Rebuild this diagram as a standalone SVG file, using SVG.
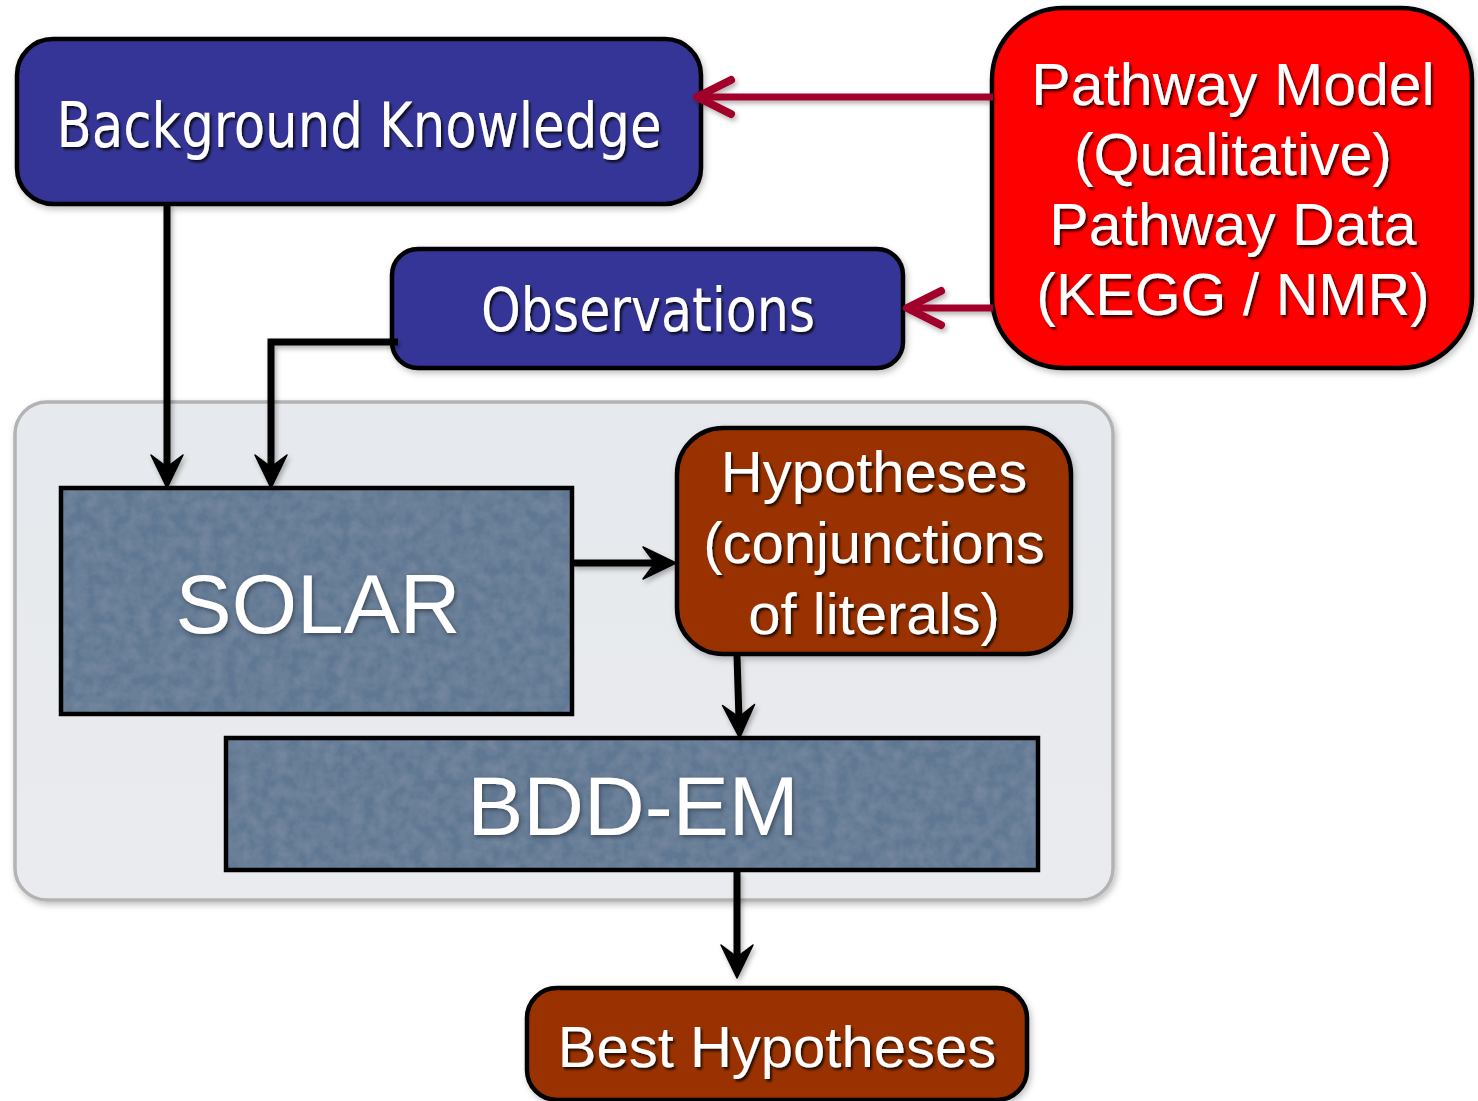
<svg xmlns="http://www.w3.org/2000/svg" width="1478" height="1101" viewBox="0 0 1478 1101">
  <defs>
    <style>
      .box { stroke: #000; stroke-width: 4.5; }
      .edge { fill: none; stroke: #000; stroke-width: 4.5; }
      .blue { fill: #343497; }
      .red { fill: #ff0000; }
      .brown { fill: #993300; }
      .slate { fill: #5e7793; }
      .tahoma { font-family: "DejaVu Sans Condensed", "DejaVu Sans", sans-serif; fill: #fff; text-anchor: middle; }
      .arial { font-family: "Liberation Sans", Arial, sans-serif; fill: #fff; text-anchor: middle; }
      .flow { fill: none; stroke: #000; stroke-width: 7; }
      .feed { fill: none; stroke: #a0002a; stroke-width: 7; }
    </style>
    <filter id="txtShadow" x="-10%" y="-20%" width="120%" height="150%">
      <feDropShadow dx="2" dy="2.5" stdDeviation="0.8" flood-color="#000" flood-opacity="0.75"/>
    </filter>
    <filter id="glow" x="-10%" y="-20%" width="120%" height="150%">
      <feDropShadow dx="1.5" dy="2" stdDeviation="2.2" flood-color="#2a3340" flood-opacity="0.7"/>
    </filter>
    <filter id="boxShadow" x="-5%" y="-5%" width="112%" height="115%">
      <feDropShadow dx="2" dy="3" stdDeviation="3" flood-color="#000" flood-opacity="0.25"/>
    </filter>
    <filter id="lineShadow" x="-20%" y="-20%" width="140%" height="140%">
      <feDropShadow dx="2" dy="3" stdDeviation="2.5" flood-color="#000" flood-opacity="0.3"/>
    </filter>
    <!-- mottled slate texture for the engine blocks -->
    <filter id="grain" x="0" y="0" width="100%" height="100%">
      <feTurbulence type="fractalNoise" baseFrequency="0.08" numOctaves="3" seed="4" result="noise"/>
      <feColorMatrix in="noise" type="matrix" values="0 0 0 0 1  0 0 0 0 1  0 0 0 0 1  0 0 0 0.12 -0.03" result="spots"/>
      <feComposite in="spots" in2="SourceGraphic" operator="in" result="clipped"/>
      <feMerge><feMergeNode in="SourceGraphic"/><feMergeNode in="clipped"/></feMerge>
    </filter>
    <linearGradient id="panel" x1="0" y1="0" x2="0" y2="1">
      <stop offset="0" stop-color="#e6e9ed"/>
      <stop offset="1" stop-color="#e9ebee"/>
    </linearGradient>
    <!-- solid notched arrowhead; tip sits 18 units past the line end -->
    <marker id="head" markerUnits="userSpaceOnUse" viewBox="-40 -20 44 40" refX="-18" refY="0" markerWidth="44" markerHeight="40" orient="auto">
      <path d="M0,0 L-33,-16 L-21,0 L-33,16 Z" fill="#000" stroke="#000" stroke-width="1.5" stroke-linejoin="round"/>
    </marker>
    <!-- open chevron head for the red feeds -->
    <marker id="chevron" markerUnits="userSpaceOnUse" viewBox="-45 -25 50 50" refX="-4" refY="0" markerWidth="50" markerHeight="50" orient="auto">
      <path d="M-38,-17 L-4,0 L-38,17" fill="none" stroke="#a0002a" stroke-width="8" stroke-linecap="round" stroke-linejoin="round"/>
    </marker>
  </defs>

  <!-- grouping panel for the SOLAR / BDD-EM pipeline -->
  <g id="pipeline-panel">
    <rect x="15" y="402" width="1098" height="498" rx="32" fill="url(#panel)" stroke="#b3b3b3" stroke-width="3.5" filter="url(#boxShadow)"/>
  </g>

  <g id="background-knowledge">
    <rect class="box blue" x="17" y="39" width="684" height="165" rx="36" filter="url(#boxShadow)"/>
    <text class="tahoma" x="359" y="147" font-size="62" textLength="605" lengthAdjust="spacingAndGlyphs" filter="url(#txtShadow)">Background Knowledge</text>
  </g>

  <g id="observations">
    <rect class="box blue" x="392" y="249" width="511" height="119" rx="26" filter="url(#boxShadow)"/>
    <text class="tahoma" x="648" y="331" font-size="60" textLength="334" lengthAdjust="spacingAndGlyphs" filter="url(#txtShadow)">Observations</text>
  </g>

  <g id="pathway">
    <rect class="box red" x="992" y="8" width="480" height="360" rx="72" filter="url(#boxShadow)"/>
    <g class="arial" font-size="59" filter="url(#txtShadow)">
      <text x="1233" y="105">Pathway Model</text>
      <text x="1233" y="175">(Qualitative)</text>
      <text x="1233" y="245">Pathway Data</text>
      <text x="1233" y="315">(KEGG / NMR)</text>
    </g>
  </g>

  <g id="solar">
    <rect class="slate" x="61" y="488" width="511" height="226" filter="url(#grain)"/>
    <rect class="edge" x="61" y="488" width="511" height="226"/>
    <text class="arial" x="318" y="633" font-size="84" filter="url(#glow)">SOLAR</text>
  </g>

  <g id="hypotheses">
    <rect class="box brown" x="677" y="428" width="394" height="226" rx="46" filter="url(#boxShadow)"/>
    <g class="arial" font-size="58" filter="url(#txtShadow)">
      <text x="874" y="492">Hypotheses</text>
      <text x="874" y="563">(conjunctions</text>
      <text x="874" y="634">of literals)</text>
    </g>
  </g>

  <g id="bdd-em">
    <rect class="slate" x="226" y="738" width="812" height="132" filter="url(#grain)"/>
    <rect class="edge" x="226" y="738" width="812" height="132"/>
    <text class="arial" x="633" y="835" font-size="84" filter="url(#glow)">BDD-EM</text>
  </g>

  <g id="best-hypotheses">
    <rect class="box brown" x="527" y="988" width="500" height="112" rx="30" filter="url(#boxShadow)"/>
    <text class="arial" x="777" y="1067" font-size="58" filter="url(#txtShadow)">Best Hypotheses</text>
  </g>

  <g id="connectors">
    <g filter="url(#lineShadow)">
      <path class="feed" d="M993,97 H697" marker-end="url(#chevron)"/>
      <path class="feed" d="M993,308 H907" marker-end="url(#chevron)"/>
    </g>
    <g filter="url(#lineShadow)">
      <path class="flow" d="M167,204 V470" marker-end="url(#head)"/>
      <path class="flow" d="M398,342 H271 V470" marker-end="url(#head)"/>
      <path class="flow" d="M572,563 H658" marker-end="url(#head)"/>
      <path class="flow" d="M737,656 L739,720" marker-end="url(#head)"/>
      <path class="flow" d="M737,871 V960" marker-end="url(#head)"/>
    </g>
  </g>
</svg>
